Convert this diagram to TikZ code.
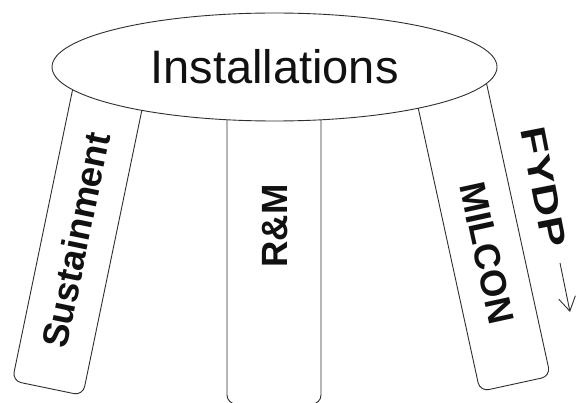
\documentclass[tikz,border=0pt]{standalone}
\usepackage{fontspec}
\setmainfont{Liberation Sans}
\usepackage{xcolor}
\definecolor{legline}{HTML}{2E2E2E}
\definecolor{textdark}{HTML}{111111}
\usepackage{tikz}
\usetikzlibrary{shapes,arrows.meta,positioning,calc}

\tikzset{
  leg/.style={draw=legline, line width=0.9pt, fill=white, rounded corners=9pt, inner sep=0pt},
  legtext/.style={font=\fontsize{36.5}{40}\selectfont\bfseries, text=textdark, inner sep=0pt},
}

\begin{document}
\begin{tikzpicture}[x=1pt, y=1pt]
          \useasboundingbox (0,0) rectangle (577,402);

          % the three legs, drawn first so the seat covers their tops
          \node[leg, minimum width=72pt, minimum height=325pt, rotate=-11.7] (sustleg) at (80.5,173) {};
          \node[leg, minimum width=94pt, minimum height=334pt] (rmleg) at (274,165) {};
          \node[leg, minimum width=72pt, minimum height=321pt, rotate=12.3] (milleg) at (481,175) {};

          % seat
          \node[ellipse, draw=legline, line width=0.9pt, fill=white, minimum width=445pt, minimum height=108pt, inner sep=0pt,
                font=\fontsize{47}{52}\selectfont, text=textdark] (seat) at (274.5,335) {Installations};

          % leg labels
          \node[legtext, rotate=78.3] (sustlabel) at (76,162) {Sustainment};
          \node[legtext, rotate=90] (rmlabel) at (275,176) {R\&M};
          \node[legtext, rotate=-77.7] (millabel) at (487,149) {MILCON};

          % FYDP with its arrow
          \node[font=\fontsize{35}{40}\selectfont\bfseries, text=textdark, inner sep=0pt, rotate=-79] (fydp) at (544,215) {\scalebox{1.3}[1]{FYDP}};
          \coordinate (arrtop) at (560,139);
          \coordinate (arrbot) at (570,90);
          \draw[legline, line width=0.9pt, -{Straight Barb[length=14pt,width=17pt]}] (arrtop) -- (arrbot);
        \end{tikzpicture}
\end{document}
